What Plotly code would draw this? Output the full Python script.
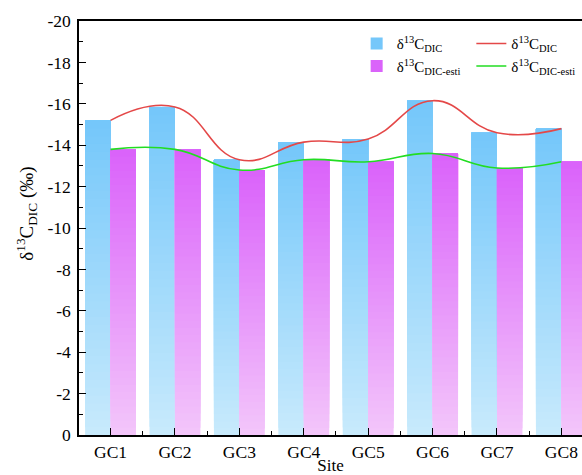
import plotly.graph_objects as go

# Site data: measured and estimated δ13C of DIC (‰)
sites = ["GC1", "GC2", "GC3", "GC4", "GC5", "GC6", "GC7", "GC8"]
d13c_dic = [-15.2, -15.85, -13.3, -14.15, -14.3, -16.15, -14.6, -14.8]
d13c_esti = [-13.8, -13.8, -12.8, -13.3, -13.2, -13.6, -12.9, -13.2]
y_ticks = [0, -2, -4, -6, -8, -10, -12, -14, -16, -18, -20]
y_tick_labels = ["0", "-2", "-4", "-6", "-8", "-10", "-12", "-14", "-16", "-18", "-20"]

FONT = "Times New Roman"
LBL_DIC = "δ<sup>13</sup>C<sub>DIC</sub>"
LBL_ESTI = "δ<sup>13</sup>C<sub>DIC-esti</sub>"

x_pos = list(range(len(sites)))
N_SEG = 40  # layers used to paint each bar's vertical gradient


def mix(c0, c1, t):
    return "rgb({},{},{})".format(*[round(a + (b - a) * t) for a, b in zip(c0, c1)])


def gradient_bars(values, bottom, top, group, name):
    # each layer runs from its own base up to the bar top, so later
    # layers cover the earlier ones without seams
    traces = []
    for k in range(N_SEG):
        t = (k + 0.5) / N_SEG
        traces.append(go.Bar(
            x=x_pos,
            y=[v * (N_SEG - k) / N_SEG for v in values],
            base=[v * k / N_SEG for v in values],
            offsetgroup=group,
            marker=dict(color=mix(bottom, top, t), line=dict(width=0)),
            name=name,
            showlegend=(k == N_SEG - 1),
            legend="legend",
            hoverinfo="skip",
        ))
    return traces


fig = go.Figure()
for tr in gradient_bars(d13c_dic, (200, 234, 252), (116, 199, 250), "dic", LBL_DIC):
    fig.add_trace(tr)
for tr in gradient_bars(d13c_esti, (243, 198, 250), (218, 98, 250), "esti", LBL_ESTI):
    fig.add_trace(tr)

fig.add_trace(go.Scatter(
    x=x_pos, y=d13c_dic, mode="lines", name=LBL_DIC, legend="legend2",
    line=dict(color="rgb(228,72,72)", width=1.6, shape="spline", smoothing=1.3),
))
fig.add_trace(go.Scatter(
    x=x_pos, y=d13c_esti, mode="lines", name=LBL_ESTI, legend="legend2",
    line=dict(color="rgb(34,221,34)", width=1.6, shape="spline", smoothing=1.3),
))

legend_style = dict(
    orientation="v", y=0.985, xanchor="left", yanchor="top",
    font=dict(family=FONT, size=15, color="black"),
    bgcolor="rgba(0,0,0,0)", tracegroupgap=0,
)

fig.update_layout(
    width=582, height=475,
    margin=dict(l=79, r=0, t=21, b=40),
    paper_bgcolor="white", plot_bgcolor="white",
    font=dict(family=FONT, size=17, color="black"),
    barmode="group", bargap=0.21, bargroupgap=0,
    legend=dict(x=0.552, **legend_style),
    legend2=dict(x=0.78, **legend_style),
    xaxis=dict(
        range=[-0.49, 7.32],
        tickvals=x_pos, ticktext=sites,
        ticks="inside", ticklen=7, tickwidth=1.2, tickcolor="black",
        minor=dict(ticks="inside", ticklen=4, tickwidth=1.2, tickcolor="black",
                   tick0=0.5, dtick=1),
        showline=True, linecolor="black", linewidth=1.5, mirror=True,
        showgrid=False, zeroline=False,
        title=dict(text="Site", standoff=1, font=dict(family=FONT, size=17)),
        tickfont=dict(family=FONT, size=17.5),
    ),
    yaxis=dict(
        range=[0, -20],
        tickvals=y_ticks, ticktext=y_tick_labels,
        ticks="inside", ticklen=7, tickwidth=1.2, tickcolor="black",
        minor=dict(ticks="inside", ticklen=4, tickwidth=1.2, tickcolor="black",
                   dtick=1, tick0=0),
        showline=True, linecolor="black", linewidth=1.5,
        showgrid=False, zeroline=False,
        ticklabelstandoff=3,
        tickfont=dict(family=FONT, size=17.5),
    ),
    annotations=[dict(
        text=LBL_DIC + " (‰)", textangle=-90, showarrow=False,
        xref="paper", yref="paper", x=-0.105, y=0.535,
        xanchor="center", yanchor="middle",
        font=dict(family=FONT, size=19, color="black"),
    )],
)

fig.write_html("out.html")
